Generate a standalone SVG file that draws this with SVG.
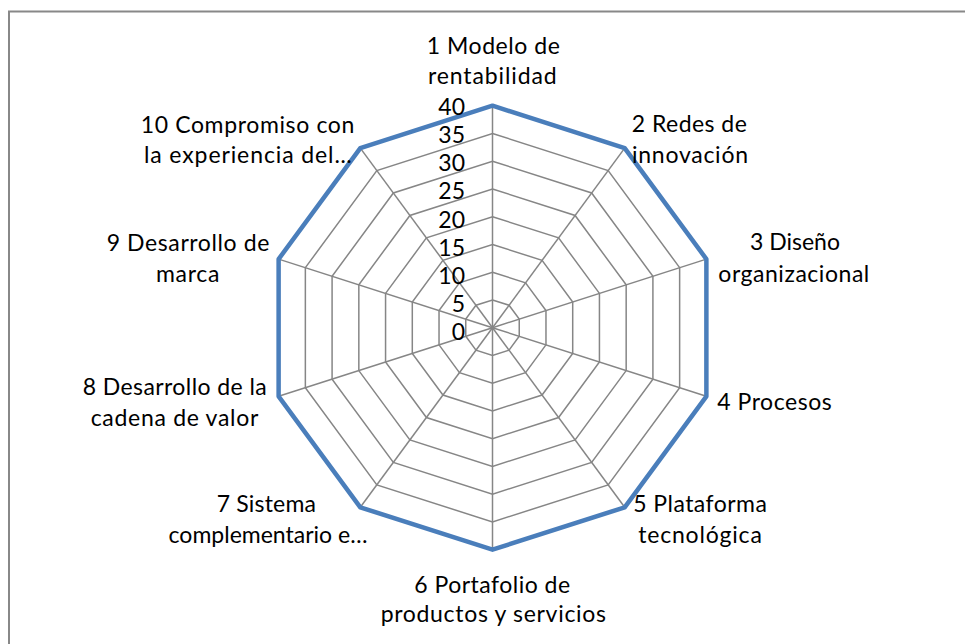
<svg xmlns="http://www.w3.org/2000/svg" width="965" height="644" viewBox="0 0 965 644">
<style>
.lbl{font-family:Lato,"Liberation Sans",sans-serif;font-size:23px;fill:#000;text-anchor:middle}
.tick{font-family:Lato,"Liberation Sans",sans-serif;font-size:23px;fill:#000;text-anchor:end}
.ring{fill:none;stroke:#868686;stroke-width:1.5}
.spoke{stroke:#868686;stroke-width:1.5}
.series{fill:none;stroke:#4A7EBB;stroke-width:4.5;stroke-linejoin:round}
</style>
<rect x="0" y="0" width="965" height="644" fill="#fff"/>
<rect x="9" y="11.5" width="1000" height="700" fill="none" stroke="#888" stroke-width="2"/>
<g id="grid" transform="translate(492.5,327.7)">
<polygon class="ring" points="0,-27.75 16.52,-22.45 26.74,-8.58 26.74,8.58 16.52,22.45 0,27.75 -16.52,22.45 -26.74,8.58 -26.74,-8.58 -16.52,-22.45"/>
<polygon class="ring" points="0,-55.5 33.05,-44.9 53.47,-17.15 53.47,17.15 33.05,44.9 0,55.5 -33.05,44.9 -53.47,17.15 -53.47,-17.15 -33.05,-44.9"/>
<polygon class="ring" points="0,-83.25 49.57,-67.35 80.2,-25.73 80.2,25.73 49.57,67.35 0,83.25 -49.57,67.35 -80.2,25.73 -80.2,-25.73 -49.57,-67.35"/>
<polygon class="ring" points="0,-111 66.09,-89.8 106.94,-34.3 106.94,34.3 66.09,89.8 0,111 -66.09,89.8 -106.94,34.3 -106.94,-34.3 -66.09,-89.8"/>
<polygon class="ring" points="0,-138.75 82.62,-112.25 133.67,-42.88 133.67,42.88 82.62,112.25 0,138.75 -82.62,112.25 -133.67,42.88 -133.67,-42.88 -82.62,-112.25"/>
<polygon class="ring" points="0,-166.5 99.14,-134.7 160.41,-51.45 160.41,51.45 99.14,134.7 0,166.5 -99.14,134.7 -160.41,51.45 -160.41,-51.45 -99.14,-134.7"/>
<polygon class="ring" points="0,-194.25 115.66,-157.15 187.14,-60.03 187.14,60.03 115.66,157.15 0,194.25 -115.66,157.15 -187.14,60.03 -187.14,-60.03 -115.66,-157.15"/>
<polygon class="ring" points="0,-222 132.19,-179.6 213.88,-68.6 213.88,68.6 132.19,179.6 0,222 -132.19,179.6 -213.88,68.6 -213.88,-68.6 -132.19,-179.6"/>
<g id="spokes">
<line class="spoke" x1="0" y1="0" x2="0" y2="-222"/>
<line class="spoke" x1="0" y1="0" x2="132.19" y2="-179.6"/>
<line class="spoke" x1="0" y1="0" x2="213.88" y2="-68.6"/>
<line class="spoke" x1="0" y1="0" x2="213.88" y2="68.6"/>
<line class="spoke" x1="0" y1="0" x2="132.19" y2="179.6"/>
<line class="spoke" x1="0" y1="0" x2="0" y2="222"/>
<line class="spoke" x1="0" y1="0" x2="-132.19" y2="179.6"/>
<line class="spoke" x1="0" y1="0" x2="-213.88" y2="68.6"/>
<line class="spoke" x1="0" y1="0" x2="-213.88" y2="-68.6"/>
<line class="spoke" x1="0" y1="0" x2="-132.19" y2="-179.6"/>
</g>
<polygon id="series" class="series" points="0,-222 132.19,-179.6 213.88,-68.6 213.88,68.6 132.19,179.6 0,222 -132.19,179.6 -213.88,68.6 -213.88,-68.6 -132.19,-179.6"/>
</g>
<g id="ticks">
<text class="tick" x="465" y="340">0</text>
<text class="tick" x="465" y="311.9">5</text>
<text class="tick" x="465" y="283.75">10</text>
<text class="tick" x="465" y="255.6">15</text>
<text class="tick" x="465" y="227.5">20</text>
<text class="tick" x="465" y="199.4">25</text>
<text class="tick" x="465" y="171.25">30</text>
<text class="tick" x="465" y="143.1">35</text>
<text class="tick" x="465" y="115">40</text>
</g>
<g id="axis1"><text class="lbl" x="493.3" y="54" textLength="133">1 Modelo de</text><text class="lbl" x="492.3" y="84" textLength="128.7">rentabilidad</text></g>
<g id="axis2"><text class="lbl" x="689.3" y="132.3" textLength="115">2 Redes de</text><text class="lbl" x="690" y="163.3" textLength="116">innovación</text></g>
<g id="axis3"><text class="lbl" x="795" y="250" textLength="90">3 Diseño</text><text class="lbl" x="793.8" y="281.7" textLength="151">organizacional</text></g>
<g id="axis4"><text class="lbl" x="774.5" y="410" textLength="114.4">4 Procesos</text></g>
<g id="axis5"><text class="lbl" x="700" y="511.7" textLength="133.7">5 Plataforma</text><text class="lbl" x="700" y="542.7" textLength="123.7">tecnológica</text></g>
<g id="axis6"><text class="lbl" x="492.2" y="592.7" textLength="155.7">6 Portafolio de</text><text class="lbl" x="493.3" y="621.7" textLength="225.3">productos y servicios</text></g>
<g id="axis7"><text class="lbl" x="266.3" y="511.7" textLength="99.3">7 Sistema</text><text class="lbl" x="268" y="542.7">complementario e…</text></g>
<g id="axis8"><text class="lbl" x="174.7" y="395" textLength="184">8 Desarrollo de la</text><text class="lbl" x="174.5" y="426" textLength="167.6">cadena de valor</text></g>
<g id="axis9"><text class="lbl" x="188" y="250.7" textLength="162.6">9 Desarrollo de</text><text class="lbl" x="187.7" y="281.7" textLength="63.3">marca</text></g>
<g id="axis10"><text class="lbl" x="247.5" y="133.3" textLength="213.6">10 Compromiso con</text><text class="lbl" x="247.8" y="162.7" textLength="207.7">la experiencia del…</text></g>
</svg>
